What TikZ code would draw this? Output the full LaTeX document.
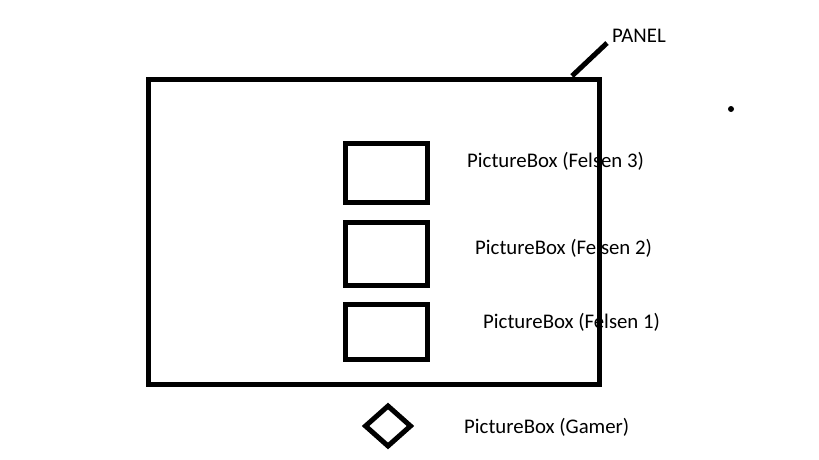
\documentclass[tikz,border=0pt]{standalone}
\usepackage{fontspec}
\setmainfont{Carlito}
\usepackage{tikz}
\usetikzlibrary{
  shapes.geometric,
  positioning
}
\tikzset{
  pbox/.style={
    draw, line width=5pt, inner sep=0pt, minimum width=82pt
  },
  panelbox/.style={pbox, minimum width=451pt, minimum height=305pt},
  gamerbox/.style={draw, diamond, line width=5pt, inner sep=0pt,
    minimum width=47pt, minimum height=42pt},
  pboxlabel/.style={anchor=west, inner sep=0pt, font=\fontsize{20.8}{24}\selectfont},
  leader/.style={line width=5pt}
}

\begin{document}
\begin{tikzpicture}[x=1pt, y=-1pt]
  \useasboundingbox[fill=white] (0,0) rectangle (819,460);

  % labels first, the panel border runs over them
  \node[pboxlabel] (lbl3) at (467,161) {PictureBox (Felsen 3)};
  \node[pboxlabel] (lbl2) at (475,248) {PictureBox (Felsen 2)};
  \node[pboxlabel] (lbl1) at (483,322) {PictureBox (Felsen 1)};
  \node[pboxlabel] (lblgamer) at (464,427) {PictureBox (Gamer)};
  \node[pboxlabel] (lblpanel) at (612,36) {PANEL};

  \node[panelbox] (panel) at (374,232) {};
  \node[pbox, minimum height=59pt] (fels3) at (386.5,173) {};
  \node[pbox, minimum height=63pt] (fels2) at (386.5,254) {};
  \node[pbox, minimum height=55pt] (fels1) at (386.5,332) {};
  \node[gamerbox] (gamer) at (388,426) {};

  \coordinate (panelhook) at (572,76);
  \draw[leader] (panelhook) -- (607,43);

  \fill (731,109) circle (3pt);
\end{tikzpicture}
\end{document}
